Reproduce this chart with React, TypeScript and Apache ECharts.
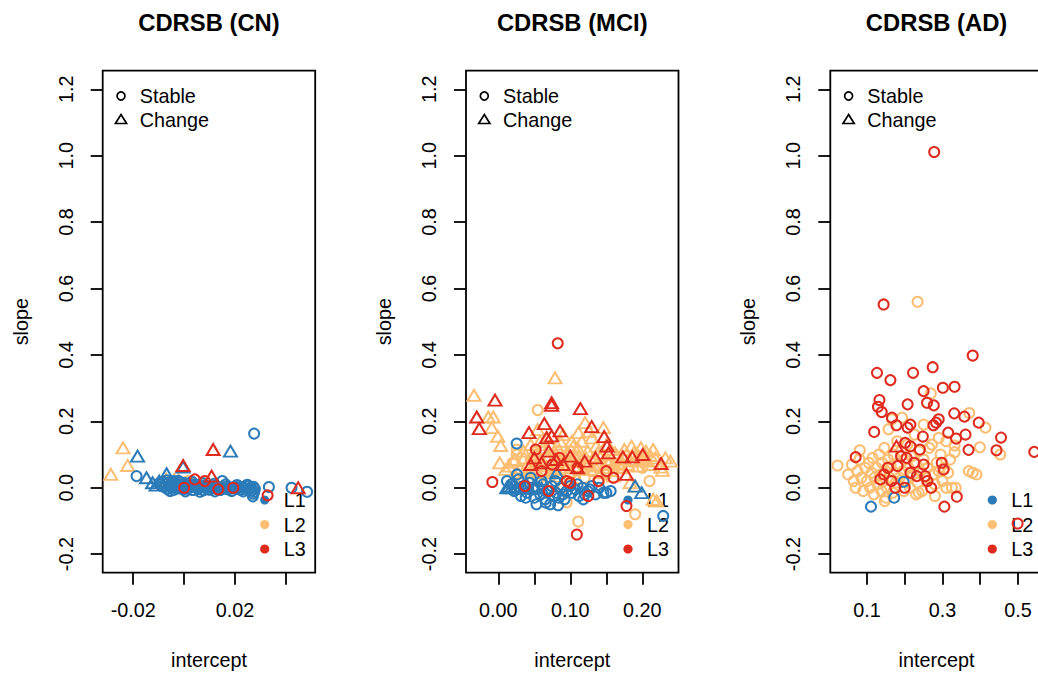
import { useEffect, useRef } from "react";
import * as echarts from "echarts";

// ---- intercept / slope pairs per diagnostic group, level and trajectory ----

// CN
const cnL1Stable: [number, number][] = [
  [-0.0187, 0.035], [0.0275, 0.163], [0.0333, 0.002], [0.0422, 0.0], [0.0483, -0.012], [0.015, 0.02],
  [-0.0095, 0.012], [-0.0088, 0.005], [-0.0082, 0.018], [-0.0078, 0.002], [-0.0072, 0.01], [-0.0066, -0.004],
  [-0.0062, 0.015], [-0.0058, 0.006], [-0.0052, 0.0], [-0.0048, 0.011], [-0.0043, 0.02], [-0.004, -0.006],
  [-0.0035, 0.004], [-0.003, 0.013], [-0.0026, 0.008], [-0.0021, -0.002], [-0.0017, 0.017], [-0.0012, 0.005],
  [-0.0008, 0.01], [-0.0003, -0.005], [0.0002, 0.014], [0.0006, 0.003], [0.0011, 0.008], [0.0015, -0.003],
  [0.002, 0.012], [0.0025, 0.001], [0.003, 0.007], [0.0034, -0.007], [0.0039, 0.01], [0.0044, 0.002],
  [0.0049, 0.006], [0.0054, -0.004], [0.0059, 0.009], [0.0064, 0.0], [0.007, 0.005], [0.0076, -0.008],
  [0.0082, 0.007], [0.0088, -0.002], [0.0094, 0.004], [0.01, -0.006], [0.0107, 0.003], [0.0113, -0.001],
  [0.012, 0.006], [0.0127, -0.004], [0.0134, 0.002], [0.0142, -0.007], [0.015, 0.001], [0.0158, -0.003],
  [0.0166, 0.004], [0.0174, -0.005], [0.0182, 0.0], [0.019, -0.002], [0.0198, 0.003], [0.0206, -0.004],
  [0.0214, 0.001], [0.0222, -0.006], [0.023, 0.002], [0.0238, -0.003], [0.0246, 0.004], [0.0254, -0.005],
  [0.0262, 0.0], [0.0268, -0.008], [0.0272, 0.003], [0.0275, -0.012], [0.0278, -0.004], [0.0272, -0.018],
  [0.027, -0.026], [-0.0068, 0.022], [-0.0024, 0.021], [0.0031, 0.018], [0.0072, 0.014], [0.0118, 0.012],
  [0.0163, 0.01], [0.0208, 0.008], [0.0248, 0.009], [-0.0055, -0.01], [0.0005, -0.011], [0.0062, -0.012],
  [0.0121, -0.011], [0.0187, -0.01], [0.0232, -0.011],
];
const cnL1Change: [number, number][] = [
  [-0.0183, 0.095], [-0.0148, 0.03], [-0.0124, 0.015], [-0.0098, 0.02], [-0.0069, 0.042], [-0.0004, 0.062],
  [0.0182, 0.11], [-0.011, 0.008],
];
const cnL2Stable: [number, number][] = [[0.0016, 0.02], [-0.005, 0.015], [0.008, 0.008]];
const cnL2Change: [number, number][] = [
  [-0.024, 0.12], [-0.0222, 0.067], [-0.0288, 0.04], [-0.003, 0.035], [-0.007, 0.025],
];
const cnL3Stable: [number, number][] = [
  [0.0, 0.0], [0.0042, 0.025], [0.0134, -0.005], [0.0193, 0.0], [0.0328, -0.023], [0.0081, 0.02],
];
const cnL3Change: [number, number][] = [[-0.0004, 0.067], [0.0114, 0.115], [0.0108, 0.035], [0.0448, 0.0]];

// MCI
const mciL1Stable: [number, number][] = [
  [0.0255, 0.133], [0.012, 0.02], [0.018, 0.01], [0.022, -0.01], [0.028, 0.025], [0.0315, -0.025],
  [0.035, 0.005], [0.04, -0.015], [0.043, 0.015], [0.048, -0.005], [0.053, -0.05], [0.055, 0.0],
  [0.058, -0.02], [0.062, 0.01], [0.065, -0.035], [0.068, -0.01], [0.072, -0.05], [0.074, 0.005],
  [0.077, -0.025], [0.08, -0.015], [0.083, -0.053], [0.084, -0.03], [0.087, 0.0], [0.09, -0.02],
  [0.095, -0.01], [0.1, 0.005], [0.102, -0.015], [0.107, -0.005], [0.112, -0.025], [0.117, 0.0],
  [0.12, -0.02], [0.124, -0.01], [0.127, -0.005], [0.13, 0.005], [0.135, -0.02], [0.14, 0.0],
  [0.146, -0.015], [0.15, -0.015], [0.156, -0.01], [0.229, -0.085], [0.045, 0.03], [0.06, 0.02],
  [0.026, 0.04], [0.038, -0.03], [0.05, -0.03], [0.066, -0.045], [0.079, 0.02], [0.092, -0.035],
  [0.11, 0.01], [0.118, -0.035],
];
const mciL1Change: [number, number][] = [
  [0.0117, 0.0], [0.018, 0.0], [0.025, 0.003], [0.03, -0.002], [0.035, 0.0], [0.081, 0.045],
  [0.19, 0.005], [0.199, -0.015], [0.05, 0.002], [0.015, 0.004], [0.04, 0.006], [0.06, -0.002],
];
const mciL2Stable: [number, number][] = [
  [0.0547, 0.234], [0.0255, 0.115], [0.0255, 0.1], [0.02, 0.075], [0.03, 0.05], [0.04, 0.06],
  [0.05, 0.045], [0.06, 0.07], [0.07, 0.03], [0.08, 0.055], [0.095, -0.044], [0.1, 0.04],
  [0.11, 0.06], [0.111, -0.102], [0.12, 0.03], [0.13, 0.05], [0.14, 0.02], [0.15, 0.04],
  [0.19, -0.08], [0.17, 0.06], [0.035, 0.02], [0.065, 0.09], [0.085, 0.1], [0.1, 0.11],
  [0.115, 0.08], [0.2, 0.06], [0.21, 0.02], [0.09, 0.0], [0.045, 0.085], [0.075, 0.045],
  [0.125, 0.065], [0.16, 0.05], [0.055, 0.02],
];
const mciL2Change: [number, number][] = [
  [-0.0338, 0.278], [0.0788, 0.331], [-0.0139, 0.213], [-0.007, 0.213], [-0.0091, 0.181], [-0.0008, 0.155],
  [0.0033, 0.127], [0.0546, 0.175], [0.1205, 0.196], [0.1113, 0.166], [0.146, 0.181], [0.185, 0.125],
  [0.198, 0.12], [0.211, 0.097], [0.17, 0.085], [0.183, 0.08], [0.19, 0.085], [0.239, 0.08],
  [0.228, 0.052], [0.183, 0.015], [0.19, 0.005], [0.215, -0.035], [0.22, -0.04],
  [0.002, 0.075], [0.01, 0.055], [0.023, 0.085], [0.03, 0.06], [0.042, 0.075], [0.048, 0.1],
  [0.052, 0.055], [0.058, 0.085], [0.062, 0.12], [0.066, 0.065], [0.07, 0.095], [0.074, 0.05],
  [0.078, 0.11], [0.082, 0.075], [0.086, 0.14], [0.088, 0.09], [0.092, 0.06], [0.096, 0.105],
  [0.1, 0.08], [0.104, 0.125], [0.108, 0.065], [0.112, 0.095], [0.116, 0.14], [0.12, 0.075],
  [0.124, 0.11], [0.128, 0.055], [0.132, 0.09], [0.136, 0.125], [0.14, 0.07], [0.144, 0.1],
  [0.148, 0.06], [0.152, 0.085], [0.156, 0.115], [0.16, 0.07], [0.165, 0.095], [0.172, 0.06],
  [0.178, 0.1], [0.195, 0.095], [0.205, 0.11], [0.226, 0.062], [0.045, 0.13], [0.035, 0.11],
  [0.068, 0.15], [0.09, 0.16], [0.13, 0.15], [0.108, 0.03], [0.085, 0.035], [0.16, 0.035],
  [0.205, 0.08], [0.215, 0.115],
  [0.015, 0.065], [0.027, 0.045], [0.036, 0.09], [0.044, 0.05], [0.055, 0.1], [0.063, 0.045],
  [0.072, 0.13], [0.076, 0.07], [0.084, 0.115], [0.094, 0.085], [0.098, 0.05], [0.106, 0.1],
  [0.11, 0.12], [0.118, 0.055], [0.122, 0.09], [0.134, 0.065], [0.138, 0.105], [0.142, 0.045],
  [0.15, 0.13], [0.154, 0.075], [0.162, 0.105], [0.168, 0.075], [0.175, 0.115], [0.18, 0.07],
  [0.188, 0.105], [0.193, 0.065], [0.2, 0.085], [0.21, 0.07], [0.218, 0.09], [0.232, 0.09],
  [0.126, 0.17], [0.102, 0.14], [0.058, 0.14], [0.08, 0.055],
];
const mciL3Stable: [number, number][] = [
  [0.0825, 0.435], [-0.0083, 0.017], [0.052, 0.115], [0.178, -0.055], [0.109, -0.141], [0.125, -0.025],
  [0.139, 0.02], [0.037, 0.005], [0.06, 0.05], [0.075, 0.07], [0.095, 0.02], [0.11, 0.06],
  [0.07, -0.01], [0.15, 0.05], [0.1, 0.015], [0.16, 0.03], [0.085, 0.09],
];
const mciL3Change: [number, number][] = [
  [-0.0046, 0.264], [0.074, 0.256], [0.074, 0.248], [0.114, 0.238], [-0.03, 0.213], [-0.0264, 0.178],
  [0.0426, 0.166], [0.0639, 0.193], [0.0857, 0.171], [0.067, 0.151], [0.074, 0.156], [0.1297, 0.184],
  [0.147, 0.154], [0.151, 0.125], [0.153, 0.105], [0.2005, 0.1], [0.173, 0.093], [0.186, 0.093],
  [0.226, 0.073], [0.178, 0.04], [0.05, 0.09], [0.06, 0.075], [0.08, 0.085], [0.09, 0.07],
  [0.1, 0.095], [0.12, 0.08], [0.135, 0.09], [0.07, 0.11], [0.045, 0.07], [0.11, 0.06],
];

// AD
const adL1Stable: [number, number][] = [[0.1106, -0.057], [0.172, -0.03], [0.197, 0.018]];
const adL1Change: [number, number][] = [];
const adL2Stable: [number, number][] = [
  [0.234, 0.56], [0.269, 0.284], [0.371, 0.225], [0.414, 0.181], [0.453, 0.1], [0.022, 0.067],
  [0.081, 0.113], [0.399, 0.122], [0.37, 0.05], [0.38, 0.045], [0.39, 0.04], [0.332, 0.107],
  [0.332, 0.127], [0.335, 0.0], [0.325, 0.0], [0.15, -0.03], [0.147, -0.04], [0.23, -0.02],
  [0.237, -0.015], [0.28, -0.025],
  [0.05, 0.04], [0.06, 0.07], [0.065, 0.02], [0.07, 0.0], [0.075, 0.05], [0.08, 0.085],
  [0.085, 0.03], [0.09, -0.01], [0.095, 0.06], [0.1, 0.02], [0.105, 0.075], [0.108, 0.0],
  [0.112, 0.045], [0.115, 0.09], [0.118, -0.02], [0.12, 0.03], [0.125, 0.06], [0.128, 0.01],
  [0.132, 0.1], [0.135, 0.04], [0.138, -0.01], [0.14, 0.075], [0.143, 0.02], [0.146, 0.12],
  [0.15, 0.05], [0.153, 0.0], [0.156, 0.085], [0.157, 0.176], [0.16, 0.03], [0.163, 0.065],
  [0.166, 0.206], [0.168, -0.015], [0.17, 0.1], [0.173, 0.045], [0.176, 0.015], [0.18, 0.14],
  [0.183, 0.07], [0.186, 0.03], [0.19, 0.11], [0.193, 0.211], [0.195, 0.05], [0.198, -0.01],
  [0.2, 0.085], [0.204, 0.02], [0.207, 0.13], [0.21, 0.06], [0.214, 0.0], [0.218, 0.095],
  [0.222, 0.04], [0.226, 0.16], [0.23, 0.07], [0.234, 0.015], [0.238, 0.11], [0.242, 0.05],
  [0.246, -0.01], [0.25, 0.085], [0.255, 0.03], [0.26, 0.06], [0.265, 0.12], [0.272, 0.13],
  [0.275, 0.04], [0.28, 0.01], [0.285, 0.075], [0.29, 0.05], [0.295, 0.1], [0.3, 0.02],
  [0.305, 0.06], [0.31, 0.0], [0.315, 0.045], [0.32, 0.085], [0.29, 0.15], [0.25, 0.19],
  [0.31, 0.14],
];
const adL2Change: [number, number][] = [];
const adL3Stable: [number, number][] = [
  [0.278, 1.011], [0.144, 0.552], [0.38, 0.398], [0.1265, 0.346], [0.222, 0.346], [0.274, 0.363],
  [0.162, 0.324], [0.25, 0.291], [0.301, 0.301], [0.332, 0.304], [0.133, 0.264], [0.129, 0.244],
  [0.139, 0.228], [0.2076, 0.251], [0.259, 0.256], [0.277, 0.248], [0.331, 0.224], [0.358, 0.214],
  [0.396, 0.196], [0.455, 0.151], [0.443, 0.113], [0.543, 0.108], [0.499, -0.108], [0.338, -0.027],
  [0.305, -0.057], [0.07, 0.092], [0.119, 0.168], [0.369, 0.114], [0.361, 0.16], [0.336, 0.148],
  [0.315, 0.166], [0.166, 0.211], [0.178, 0.188], [0.2075, 0.181], [0.215, 0.19], [0.276, 0.188],
  [0.283, 0.196], [0.29, 0.206], [0.248, 0.154], [0.201, 0.135], [0.215, 0.125], [0.24, 0.115],
  [0.19, 0.095], [0.181, 0.065], [0.205, 0.09], [0.232, 0.035], [0.254, 0.035], [0.298, 0.075],
  [0.303, 0.055], [0.145, 0.04], [0.155, 0.06], [0.165, 0.02], [0.175, 0.0], [0.215, 0.045],
  [0.26, 0.02], [0.27, 0.0], [0.2, 0.0], [0.135, 0.025], [0.25, 0.07], [0.225, 0.075],
];
const adL3Change: [number, number][] = [[0.178, 0.125]];

// ---- axis ticks ----
const yTicks = [-0.2, 0, 0.2, 0.4, 0.6, 0.8, 1.0, 1.2];
const cnXTicks = [-0.02, 0, 0.02, 0.04];
const cnXLabels = [-0.02, 0.02];
const mciXTicks = [0, 0.05, 0.1, 0.15, 0.2];
const mciXLabels = [0, 0.1, 0.2];
const adXTicks = [0.1, 0.2, 0.3, 0.4, 0.5];
const adXLabels = [0.1, 0.3, 0.5];

const titles = ["CDRSB (CN)", "CDRSB (MCI)", "CDRSB (AD)"];
const levelNames = ["L1", "L2", "L3"];
const shapeNames = ["Stable", "Change"];

const COLORS = ["#2b7bb9", "#fdbe72", "#df2a1e"];
const FONT = "'Liberation Sans', Arial, Helvetica, sans-serif";
const FS = 19.8;

type Pts = [number, number][];
interface Panel {
  left: number;
  xMin: number;
  xMax: number;
  ticks: number[];
  labels: number[];
  digits: number;
  groups: { stable: Pts; change: Pts }[]; // L1, L2, L3
}

const PLOT_TOP = 70.7;
const PLOT_H = 502;
const PLOT_W = 212.5;

const panels: Panel[] = [
  {
    left: 102.7, xMin: -0.032, xMax: -0.032 + PLOT_W / 2545, ticks: cnXTicks, labels: cnXLabels, digits: 2,
    groups: [
      { stable: cnL1Stable, change: cnL1Change },
      { stable: cnL2Stable, change: cnL2Change },
      { stable: cnL3Stable, change: cnL3Change },
    ],
  },
  {
    left: 466, xMin: -0.0449, xMax: -0.0449 + PLOT_W / 720, ticks: mciXTicks, labels: mciXLabels, digits: 2,
    groups: [
      { stable: mciL1Stable, change: mciL1Change },
      { stable: mciL2Stable, change: mciL2Change },
      { stable: mciL3Stable, change: mciL3Change },
    ],
  },
  {
    left: 830.3, xMin: 0.0028, xMax: 0.0028 + PLOT_W / 377.5, ticks: adXTicks, labels: adXLabels, digits: 1,
    groups: [
      { stable: adL1Stable, change: adL1Change },
      { stable: adL2Stable, change: adL2Change },
      { stable: adL3Stable, change: adL3Change },
    ],
  },
];

function buildOption(): echarts.EChartsOption {
  const grid: any[] = [];
  const xAxis: any[] = [];
  const yAxis: any[] = [];
  const series: any[] = [];
  const graphic: any[] = [];
  const title: any[] = [];
  const drawOrder = [1, 0, 2];

  panels.forEach((p, i) => {
    grid.push({
      left: p.left, top: PLOT_TOP, width: PLOT_W, height: PLOT_H,
      show: true, borderColor: "#000", borderWidth: 1.8, backgroundColor: "transparent",
      containLabel: false, outerBoundsMode: "none",
    });
    xAxis.push({
      gridIndex: i, type: "value", min: p.xMin, max: p.xMax, position: "bottom",
      axisLine: { show: false, onZero: false },
      splitLine: { show: false },
      axisTick: { show: true, inside: false, length: 12, lineStyle: { color: "#000", width: 1.8 }, customValues: p.ticks },
      axisLabel: {
        customValues: p.labels, color: "#000", fontSize: FS, fontFamily: FONT, margin: 27,
        formatter: (v: number) => v.toFixed(p.digits),
      },
      name: "intercept", nameLocation: "middle", nameGap: 77,
      nameTextStyle: { color: "#000", fontSize: FS, fontFamily: FONT },
    });
    yAxis.push({
      gridIndex: i, type: "value", min: -0.256, max: 1.256, position: "left",
      axisLine: { show: false, onZero: false },
      splitLine: { show: false },
      axisTick: { show: true, inside: false, length: 12, lineStyle: { color: "#000", width: 1.8 }, customValues: yTicks },
      axisLabel: {
        customValues: yTicks, rotate: 90, color: "#000", fontSize: FS, fontFamily: FONT, margin: 27,
        formatter: (v: number) => v.toFixed(1),
      },
      name: "slope", nameLocation: "middle", nameGap: 72,
      nameTextStyle: { color: "#000", fontSize: FS, fontFamily: FONT },
    });
    title.push({
      text: titles[i], left: p.left + PLOT_W / 2, top: 10, textAlign: "center", padding: 0,
      textStyle: { color: "#000", fontSize: 23.8, fontWeight: "bold", fontFamily: FONT },
    });

    drawOrder.forEach((lv) => {
      const g = p.groups[lv];
      const common = {
        type: "scatter", xAxisIndex: i, yAxisIndex: i, silent: true, clip: true,
        itemStyle: { color: "rgba(0,0,0,0)", borderColor: COLORS[lv], borderWidth: 2, opacity: 1 },
      };
      series.push({ ...common, name: `${levelNames[lv]} ${shapeNames[0]}`, symbol: "circle", symbolSize: 10, data: g.stable });
      series.push({ ...common, name: `${levelNames[lv]} ${shapeNames[1]}`, symbol: "triangle", symbolSize: [13, 11], data: g.change });
    });

    // key for symbol shape
    const sx = p.left + 18.3;
    graphic.push(
      { type: "circle", shape: { cx: sx, cy: 96, r: 4 }, style: { fill: "none", stroke: "#000", lineWidth: 1.7 } },
      {
        type: "polygon",
        shape: { points: [[sx, 114.5], [sx + 5.6, 123.5], [sx - 5.6, 123.5]] },
        style: { fill: "none", stroke: "#000", lineWidth: 1.7 },
      },
      { type: "text", x: p.left + 37, y: 96, style: { text: shapeNames[0], fill: "#000", fontSize: FS, fontFamily: FONT, verticalAlign: "middle" } },
      { type: "text", x: p.left + 37, y: 120, style: { text: shapeNames[1], fill: "#000", fontSize: FS, fontFamily: FONT, verticalAlign: "middle" } },
    );
    // key for level colour
    levelNames.forEach((ln, k) => {
      const cy = 500 + k * 24.5;
      graphic.push(
        { type: "circle", shape: { cx: p.left + 162, cy, r: 4.6 }, style: { fill: COLORS[k] } },
        { type: "text", x: p.left + 181, y: cy, style: { text: ln, fill: "#000", fontSize: FS, fontFamily: FONT, verticalAlign: "middle" } },
      );
    });
  });

  return { animation: false, backgroundColor: "#fff", title, grid, xAxis, yAxis, series, graphic };
}

export default function App() {
  const ref = useRef<HTMLDivElement>(null);
  useEffect(() => {
    if (!ref.current) return;
    const chart = echarts.init(ref.current, undefined, { renderer: "svg" });
    chart.setOption(buildOption());
    return () => chart.dispose();
  }, []);
  return <div ref={ref} style={{ position: "fixed", left: 0, top: 0, width: 1038, height: 673, background: "#fff" }} />;
}
